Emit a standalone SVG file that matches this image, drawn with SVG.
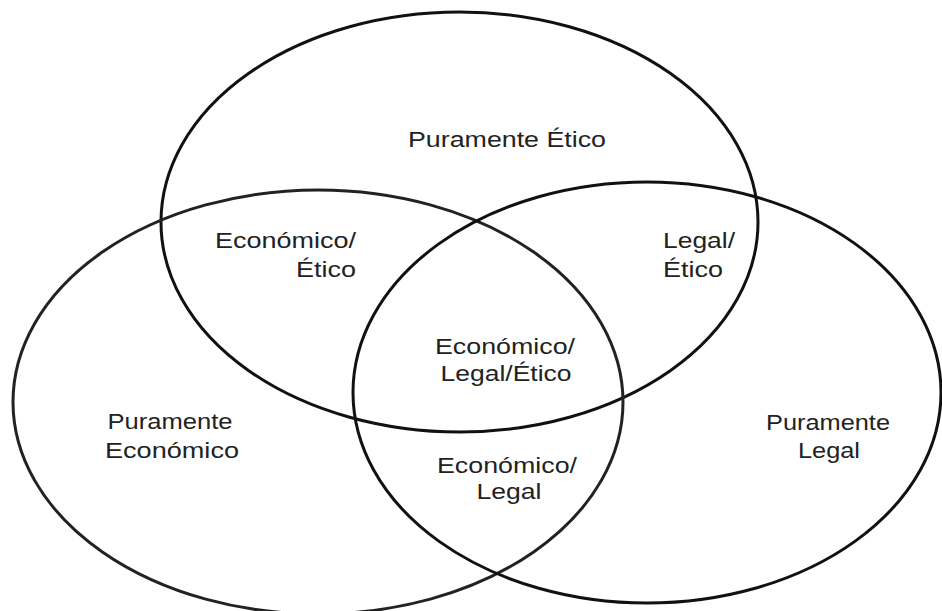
<svg xmlns="http://www.w3.org/2000/svg" width="942" height="611" viewBox="0 0 942 611">
<style>
.c{fill:none;stroke:#111;stroke-width:3}
.t{font-family:"Liberation Sans",Arial,sans-serif;font-size:22px;fill:#222}
.m{text-anchor:middle}
.e{text-anchor:end}
</style>
<rect width="942" height="611" fill="#fff"/>
<g id="etico"><ellipse class="c" cx="459.5" cy="222" rx="298.5" ry="210"/></g>
<g id="economico"><ellipse class="c" cx="318" cy="402" rx="305" ry="212" style="stroke:#222"/></g>
<g id="legal"><ellipse class="c" cx="647" cy="392.5" rx="294" ry="210.5"/></g>
<g id="labels">
<text class="t m" x="507" y="147" textLength="198" lengthAdjust="spacingAndGlyphs">Puramente Ético</text>
<text class="t e" x="356" y="248" textLength="141" lengthAdjust="spacingAndGlyphs">Económico/</text>
<text class="t e" x="356" y="277" textLength="60" lengthAdjust="spacingAndGlyphs">Ético</text>
<text class="t" x="663" y="248" textLength="72" lengthAdjust="spacingAndGlyphs">Legal/</text>
<text class="t" x="663" y="277" textLength="60" lengthAdjust="spacingAndGlyphs">Ético</text>
<text class="t m" x="505" y="354" textLength="140" lengthAdjust="spacingAndGlyphs">Económico/</text>
<text class="t m" x="506" y="381" textLength="131" lengthAdjust="spacingAndGlyphs">Legal/Ético</text>
<text class="t m" x="170" y="429" textLength="125" lengthAdjust="spacingAndGlyphs">Puramente</text>
<text class="t m" x="172" y="458" textLength="134" lengthAdjust="spacingAndGlyphs">Económico</text>
<text class="t m" x="507" y="473" textLength="140" lengthAdjust="spacingAndGlyphs">Económico/</text>
<text class="t m" x="509" y="499" textLength="65" lengthAdjust="spacingAndGlyphs">Legal</text>
<text class="t m" x="828" y="430" textLength="124" lengthAdjust="spacingAndGlyphs">Puramente</text>
<text class="t m" x="829" y="458" textLength="62" lengthAdjust="spacingAndGlyphs">Legal</text>
</g>
</svg>
